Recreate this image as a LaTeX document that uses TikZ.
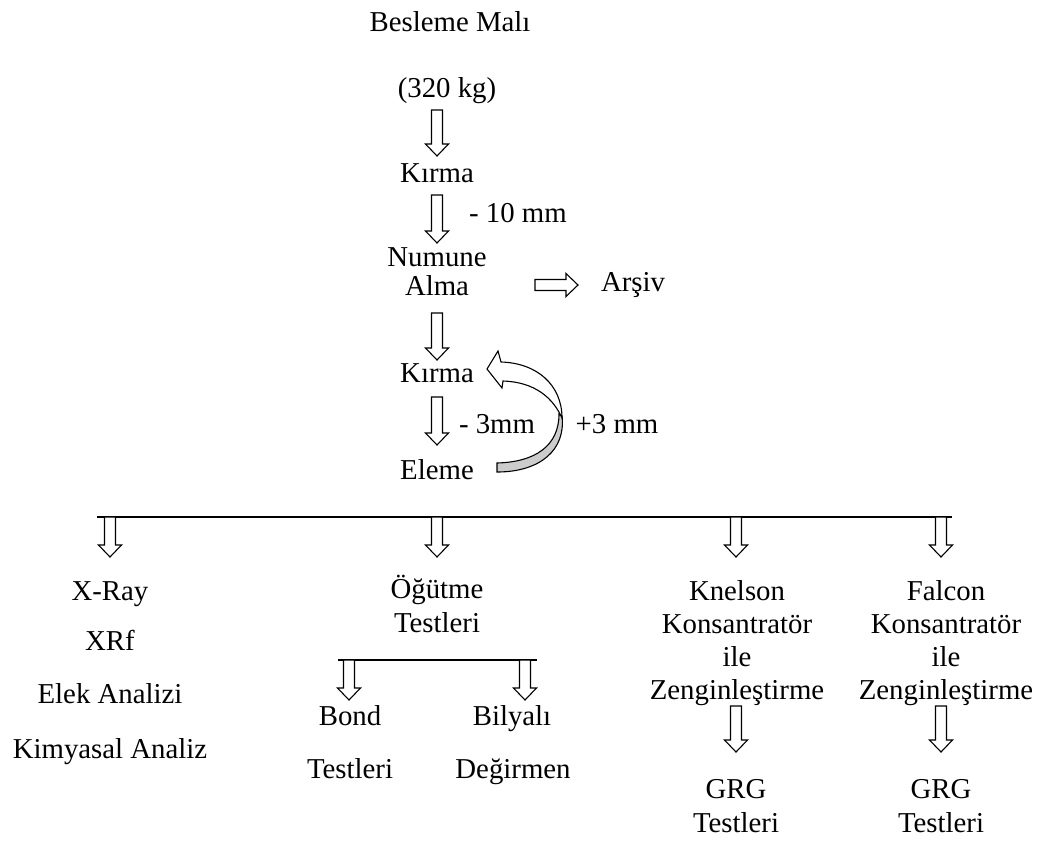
\documentclass[tikz,border=0pt]{standalone}
\usepackage{fontspec}
\setmainfont{Liberation Serif}
\usetikzlibrary{calc}
\tikzset{
  lbl/.style={anchor=base, inner sep=0pt, font=\fontsize{28.8}{34}\selectfont},
  mlbl/.style={lbl, align=center},
  mlbltight/.style={anchor=base, inner sep=0pt, align=center, font=\fontsize{28.8}{33}\selectfont},
  blk/.style={draw=black, line width=1.1pt, fill=white, line join=miter},
  bar/.style={draw=black, line width=1.8pt},
}
\newcommand{\vblock}[2]{\draw[blk] let \p1=(#1), \p2=(#2) in
  (\x1-5.5pt,\y1) -- (\x1-5.5pt,\y2+12pt) -- (\x1-11.5pt,\y2+12pt) -- (\x1,\y2)
  -- (\x1+11.5pt,\y2+12pt) -- (\x1+5.5pt,\y2+12pt) -- (\x1+5.5pt,\y1) -- cycle;}
\newcommand{\hblock}[2]{\draw[blk] let \p1=(#1), \p2=(#2) in
  (\x1,\y1+5.5pt) -- (\x2-12pt,\y1+5.5pt) -- (\x2-12pt,\y1+11.5pt) -- (\x2,\y1)
  -- (\x2-12pt,\y1-11.5pt) -- (\x2-12pt,\y1-5.5pt) -- (\x1,\y1-5.5pt) -- cycle;}
\begin{document}
\begin{tikzpicture}[x=1pt,y=-1pt]
\useasboundingbox (0,0) rectangle (1052,863);
% top chain
\node[lbl] (besleme) at (450,31) {Besleme Malı};
\node[lbl] (kg) at (447,97) {(320 kg)};
\node[lbl] (kirma1) at (437,182) {Kırma};
\node[lbl] (mm10) at (518,222) {- 10 mm};
\node[lbl] (numune) at (437,266) {Numune};
\node[lbl] (alma) at (437,295) {Alma};
\node[lbl] (arsiv) at (633,291) {Arşiv};
\node[lbl] (kirma2) at (437,382) {Kırma};
\node[lbl] (mm3) at (497,433) {- 3mm};
\node[lbl] (p3mm) at (617,433) {+3 mm};
\node[lbl] (eleme) at (437,479) {Eleme};
% arrow end points
\coordinate (a1s) at (437,110); \coordinate (a1e) at (437,156);
\coordinate (a2s) at (437,195); \coordinate (a2e) at (437,243);
\coordinate (a3s) at (437,313); \coordinate (a3e) at (437,360);
\coordinate (a4s) at (437,397); \coordinate (a4e) at (437,445);
\coordinate (ars) at (535,285); \coordinate (are) at (578,285);
\vblock{a1s}{a1e}
\vblock{a2s}{a2e}
\vblock{a3s}{a3e}
\vblock{a4s}{a4e}
\hblock{ars}{are}
% curved return arrow
\filldraw[draw=black, line width=1.1pt, fill=black!20]
  (559,414) .. controls (559,446) and (535,462) .. (497,463)
  -- (497,472) .. controls (540,472) and (566,450) .. (562,416) -- cycle;
\filldraw[draw=black, line width=1.1pt, fill=white, line join=miter]
  (503,381) -- (502,388) -- (487,369) -- (498,351) -- (501,362)
  .. controls (537,363) and (562,385) .. (562,418)
  .. controls (553,398) and (535,382) .. (503,381) -- cycle;
% main bar
\coordinate (barL) at (97,517); \coordinate (barR) at (952,517);
\draw[bar] (barL) -- (barR);
\foreach \n/\xx in {b1/110,b2/437,b3/736,b4/941}{
  \coordinate (\n s) at (\xx,517); \coordinate (\n e) at (\xx,557);
}
\vblock{b1s}{b1e}
\vblock{b2s}{b2e}
\vblock{b3s}{b3e}
\vblock{b4s}{b4e}
% column 1
\node[lbl] (xray) at (110,600) {X-Ray};
\node[lbl] (xrf) at (110,650) {XRf};
\node[lbl] (elek) at (110,703) {Elek Analizi};
\node[lbl] (kimya) at (110,758) {Kimyasal Analiz};
% column 2 (base anchor = last line)
\node[mlbl] (ogutme) at (437,632) {Öğütme\\Testleri};
\coordinate (subL) at (338,660); \coordinate (subR) at (537,660);
\draw[bar] (subL) -- (subR);
\coordinate (c1s) at (349,660); \coordinate (c1e) at (349,700);
\coordinate (c2s) at (525,660); \coordinate (c2e) at (525,700);
\vblock{c1s}{c1e}
\vblock{c2s}{c2e}
\node[lbl] (bond) at (350,725) {Bond};
\node[lbl] (bilyali) at (512,725) {Bilyalı};
\node[lbl] (testleri2) at (350,778) {Testleri};
\node[lbl] (degirmen) at (513,778) {Değirmen};
% columns 3 and 4 (base anchor = last line)
\node[mlbltight] (knelson) at (737,699) {Knelson\\Konsantratör\\ile\\Zenginleştirme};
\node[mlbltight] (falcon) at (946,699) {Falcon\\Konsantratör\\ile\\Zenginleştirme};
\coordinate (d1s) at (736,706); \coordinate (d1e) at (736,752);
\coordinate (d2s) at (941,706); \coordinate (d2e) at (941,752);
\vblock{d1s}{d1e}
\vblock{d2s}{d2e}
\node[mlbl] (grg1) at (736,832) {GRG\\Testleri};
\node[mlbl] (grg2) at (941,832) {GRG\\Testleri};
\end{tikzpicture}
\end{document}
